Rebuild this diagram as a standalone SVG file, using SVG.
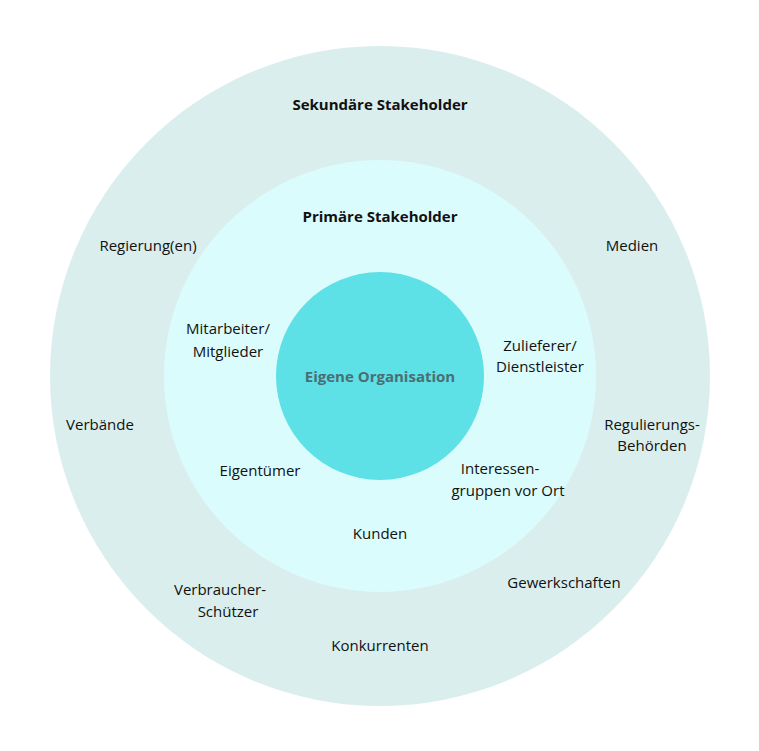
<svg xmlns="http://www.w3.org/2000/svg" width="759" height="751" viewBox="0 0 759 751">
<style>
text{font-family:"Open Sans","Noto Sans",sans-serif;font-size:15px;fill:#111;text-anchor:middle}
.b{font-weight:bold}
</style>
<rect width="759" height="751" fill="#fff"/>
<g id="secondary"><circle cx="380" cy="376" r="330" fill="#daeeed"/>
<text class="b" x="380" y="110">Sekundäre Stakeholder</text>
<text x="148" y="251">Regierung(en)</text>
<text x="632" y="251">Medien</text>
<text x="100" y="430">Verbände</text>
<text x="652" y="430">Regulierungs-</text>
<text x="652" y="451">Behörden</text>
<text x="220" y="595">Verbraucher-</text>
<text x="228" y="617">Schützer</text>
<text x="564" y="588">Gewerkschaften</text>
<text x="380" y="651">Konkurrenten</text>
</g>
<g id="primary"><circle cx="380" cy="376" r="216" fill="#dbfcfd"/>
<text class="b" x="380" y="222">Primäre Stakeholder</text>
<text x="228" y="334">Mitarbeiter/</text>
<text x="228" y="357">Mitglieder</text>
<text x="540" y="351">Zulieferer/</text>
<text x="540" y="372">Dienstleister</text>
<text x="260" y="476">Eigentümer</text>
<text x="500" y="474">Interessen-</text>
<text x="508" y="496">gruppen vor Ort</text>
<text x="380" y="539">Kunden</text>
</g>
<g id="org"><circle cx="380" cy="376" r="104" fill="#5de0e6"/>
<text class="b" x="380" y="382" style="fill:#4a6e72">Eigene Organisation</text>
</g>
<g id="connectors"/>
</svg>
